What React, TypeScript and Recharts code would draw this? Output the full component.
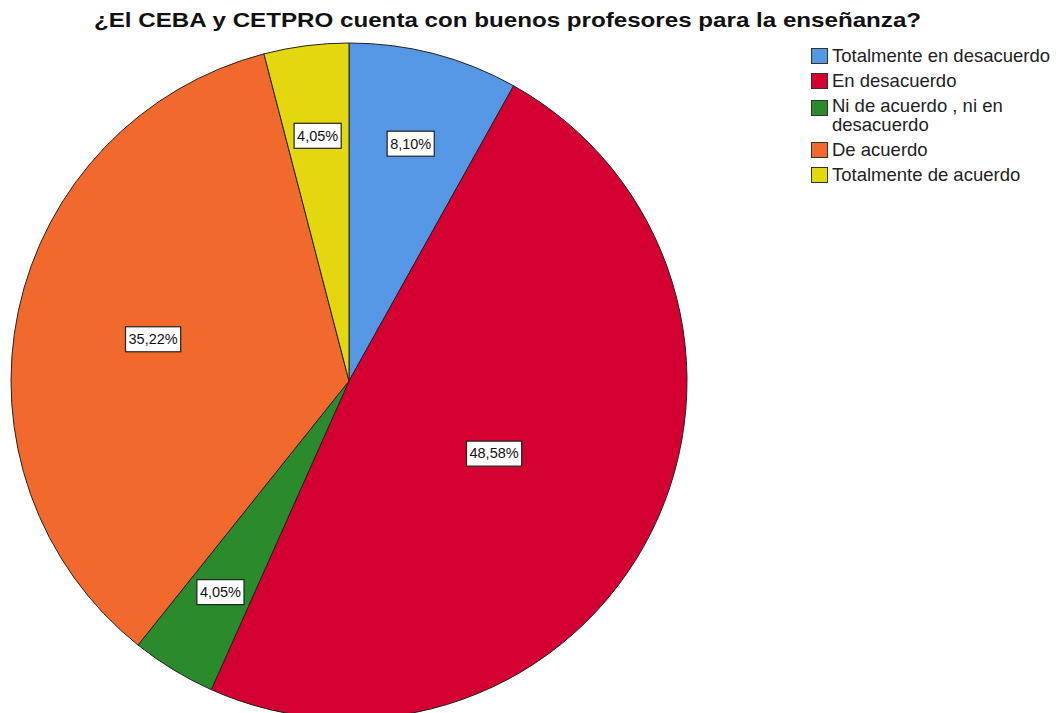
import { Legend, Pie, PieChart, Cell } from 'recharts';

const categories = [
  'Totalmente en desacuerdo',
  'En desacuerdo',
  'Ni de acuerdo , ni en desacuerdo',
  'De acuerdo',
  'Totalmente de acuerdo',
];
const counts = [20, 120, 10, 87, 10];
const colors = ['#5596E5', '#D40032', '#2B8A2B', '#F2692D', '#E3D70F'];
const title = '¿El CEBA y CETPRO cuenta con buenos profesores para la enseñanza?';

const chartData = categories.map((name, i) => ({ name, value: counts[i] }));

const RAD = Math.PI / 180;
const FONT = '"Liberation Sans", Arial, sans-serif';

const charW = (s: string) =>
  s.split('').reduce((w, ch) => w + (ch === ',' ? 0.278 : ch === '%' ? 0.889 : 0.556), 0);

const renderLabel = (props: any) => {
  const { cx, cy, midAngle, outerRadius, percent } = props;
  // roughly the sector centroid, pushed a bit outward
  const half = Math.max(percent * Math.PI, 0.01);
  const r = ((2 * outerRadius * Math.sin(half)) / (3 * half)) * 1.1;
  const x = cx + r * Math.cos(-midAngle * RAD);
  const y = cy + r * Math.sin(-midAngle * RAD);
  const text = `${(percent * 100).toFixed(2).replace('.', ',')}%`;
  const w = charW(text) * 14.5 + 6;
  const h = 25;
  return (
    <g>
      <rect x={x - w / 2} y={y - h / 2} width={w} height={h} fill='#fff' stroke='#222' strokeWidth={1.2} />
      <text x={x} y={y + 1} textAnchor='middle' dominantBaseline='middle' fontSize={14.5} fontFamily={FONT} fill='#111'>
        {text}
      </text>
    </g>
  );
};

const LegendBox = () => (
  <div style={{ fontFamily: FONT, fontSize: 18.5, color: '#222', lineHeight: '19px' }}>
    {chartData.map((d, i) => (
      <div key={d.name} style={{ display: 'flex', alignItems: 'flex-start', marginBottom: 6 }}>
        <span
          style={{
            width: 17,
            height: 16,
            marginTop: d.name.length > 26 ? 4 : 2,
            background: colors[i],
            border: '1px solid #333',
            boxSizing: 'border-box',
            marginRight: 4,
            flexShrink: 0,
          }}
        />
        <span style={{ width: 228 }}>{d.name}</span>
      </div>
    ))}
  </div>
);

export default function App() {
  return (
    <div style={{ position: 'absolute', left: 0, top: 0, width: 1060, height: 713, background: '#fff', overflow: 'hidden' }}>
      <div
        style={{
          position: 'absolute',
          left: 0,
          top: 8,
          width: 1015,
          textAlign: 'center',
          fontFamily: FONT,
          fontWeight: 'bold',
          fontSize: 21,
          color: '#111',
          transform: 'scaleX(1.15)',
          transformOrigin: '507px 0',
        }}
      >
        {title}
      </div>
      <PieChart
        width={1060}
        height={713}
        margin={{ top: 0, right: 0, bottom: 0, left: 0 }}
        style={{ position: 'absolute', left: 0, top: 0 }}
      >
        <Pie
          data={chartData}
          dataKey='value'
          nameKey='name'
          cx={349}
          cy={381}
          outerRadius={338}
          startAngle={90}
          endAngle={-270}
          stroke='#222'
          strokeWidth={1}
          label={renderLabel}
          labelLine={false}
          isAnimationActive={false}
        >
          {chartData.map((d, i) => (
            <Cell key={`cell-${d.name}`} fill={colors[i]} />
          ))}
        </Pie>
        <Legend
          layout='vertical'
          content={<LegendBox />}
          wrapperStyle={{ left: 811, top: 46, width: 250 }}
        />
      </PieChart>
    </div>
  );
}
